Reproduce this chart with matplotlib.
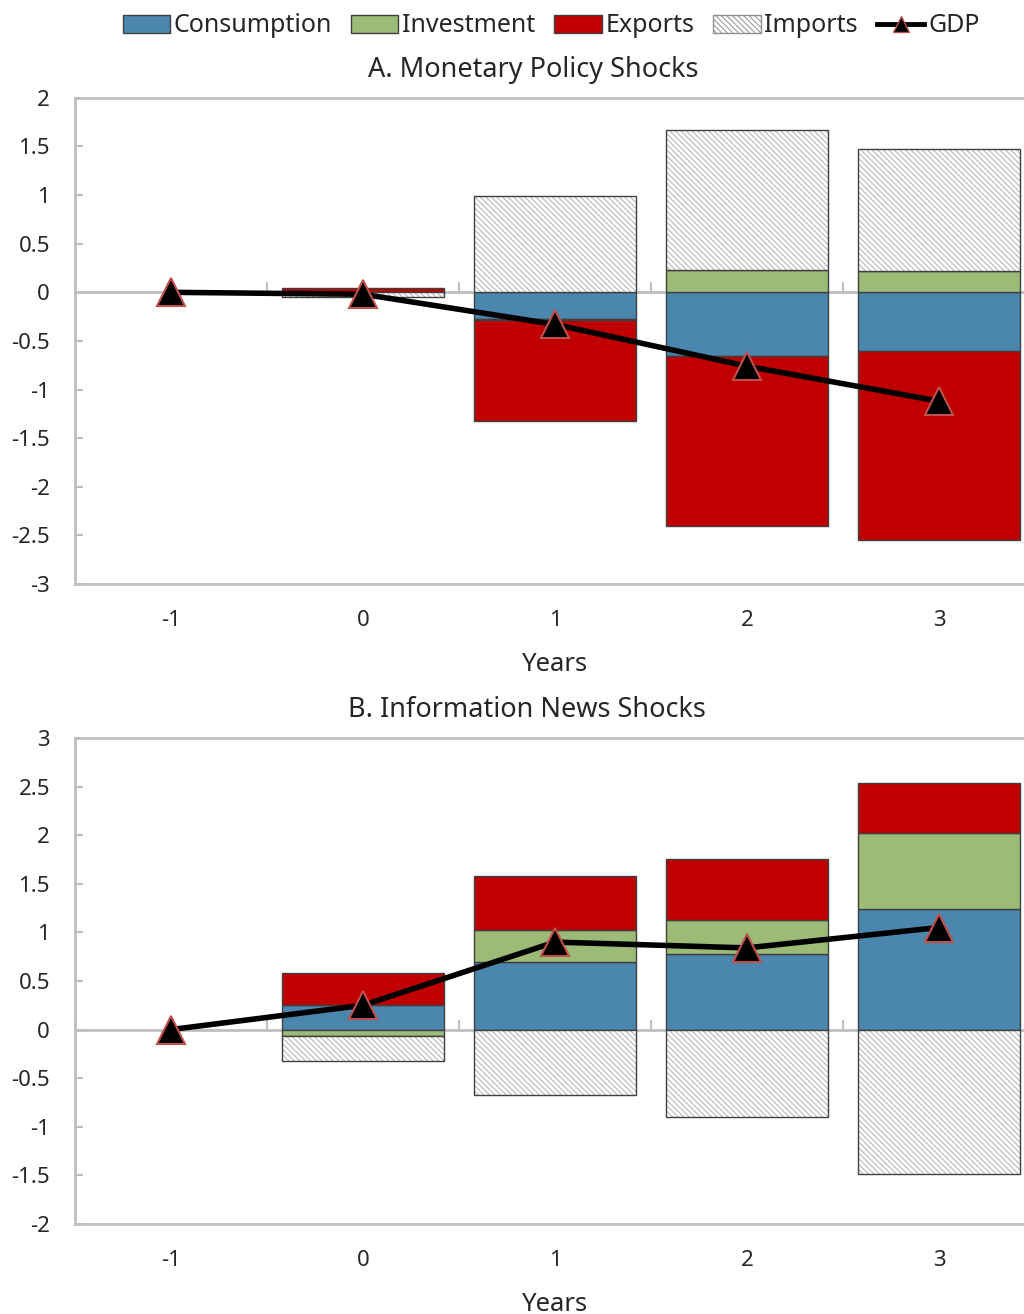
import matplotlib
matplotlib.use("Agg")
import matplotlib.pyplot as plt
import numpy as np
from matplotlib.lines import Line2D
from matplotlib.patches import Patch

plt.rcParams["font.family"] = ["Noto Sans", "DejaVu Sans"]
plt.rcParams["hatch.linewidth"] = 0.7

years = [-1, 0, 1, 2, 3]

# Panel A: monetary policy shocks
a_consumption = [0.0, 0.0, -0.27, -0.66, -0.60]
a_investment = [0.0, 0.0, -0.01, 0.23, 0.22]
a_exports = [0.0, 0.04, -1.04, -1.74, -1.95]
a_imports = [0.0, -0.05, 0.99, 1.44, 1.25]
a_gdp = [0.0, -0.02, -0.33, -0.76, -1.12]

# Panel B: information news shocks
b_consumption = [0.0, 0.25, 0.70, 0.78, 1.24]
b_investment = [0.0, -0.07, 0.32, 0.35, 0.78]
b_exports = [0.0, 0.33, 0.56, 0.62, 0.52]
b_imports = [0.0, -0.25, -0.67, -0.90, -1.49]
b_gdp = [0.0, 0.25, 0.90, 0.84, 1.05]

C_CONS = "#4A86AD"
C_INV = "#9BBB77"
C_EXP = "#C00000"
EDGE = "#404040"
GRAY = "#BFBFBF"
TXT = "#262626"
HATCH = "\\\\\\\\\\\\"
WIDTH = 0.84


def draw_panel(ax, series, gdp, ylim):
    x = np.array(years, dtype=float)
    pos = np.zeros(len(x))
    neg = np.zeros(len(x))
    for values, color in series:
        v = np.array(values, dtype=float)
        bottom = np.where(v >= 0, pos, neg)
        keep = v != 0
        if color is None:
            ax.bar(x[keep], v[keep], WIDTH, bottom=bottom[keep], color="white",
                   edgecolor="#B0B0B0", hatch=HATCH, linewidth=0, zorder=2)
            ax.bar(x[keep], v[keep], WIDTH, bottom=bottom[keep], fill=False,
                   edgecolor=EDGE, linewidth=1.0, zorder=2.5)
        else:
            ax.bar(x[keep], v[keep], WIDTH, bottom=bottom[keep], color=color,
                   edgecolor=EDGE, linewidth=1.0, zorder=2)
        pos = np.where(v >= 0, pos + v, pos)
        neg = np.where(v < 0, neg + v, neg)

    ax.plot(x, gdp, color="black", lw=4, marker="^", markersize=20,
            markerfacecolor="black", markeredgecolor="#C0504D", markeredgewidth=1.5,
            zorder=5)

    ticks = np.arange(ylim[0], ylim[1] + 0.01, 0.5)
    ax.set_xlim(-1.5, 3.5)
    ax.set_ylim(*ylim)
    ax.set_yticks(ticks)
    ax.set_yticklabels([f"{t:g}" for t in ticks])
    ax.set_xticks(years)
    ax.set_xticklabels([str(y) for y in years])
    ax.tick_params(axis="x", length=0, pad=19, labelsize=16, colors=TXT)
    ax.tick_params(axis="y", direction="in", length=6, width=1.5, color=GRAY,
                   pad=18, labelsize=16, labelcolor=TXT)
    for s in ax.spines.values():
        s.set_color(GRAY)
        s.set_linewidth(2)
    ax.set_xlabel("Years", fontsize=18.5, labelpad=15, color=TXT)

    # horizontal axis at zero with category boundary ticks
    zero = (0 - ylim[0]) / (ylim[1] - ylim[0])
    sec = ax.secondary_xaxis(zero)
    sec.set_alignment("bottom")
    sec.set_xticks(np.arange(-1.5, 3.6, 1.0))
    sec.set_xticklabels([])
    sec.tick_params(direction="in", length=7, width=1.5, color=GRAY)
    sec.spines["bottom"].set_color(GRAY)
    sec.spines["bottom"].set_linewidth(2)
    sec.spines["top"].set_visible(False)


fig = plt.figure(figsize=(10.24, 13.14), dpi=100)
ax_a = fig.add_axes([0.0732, 0.5556, 0.9375, 0.3699])
ax_b = fig.add_axes([0.0732, 0.0685, 0.9375, 0.3699])

draw_panel(ax_a, [(a_consumption, C_CONS), (a_investment, C_INV),
                  (a_exports, C_EXP), (a_imports, None)], a_gdp, (-3, 2))
draw_panel(ax_b, [(b_consumption, C_CONS), (b_investment, C_INV),
                  (b_exports, C_EXP), (b_imports, None)], b_gdp, (-2, 3))

fig.text(533 / 1024, 1 - 70 / 1314, "A. Monetary Policy Shocks", ha="center",
         va="center", fontsize=19.5, color=TXT)
fig.text(527 / 1024, 1 - 710 / 1314, "B. Information News Shocks", ha="center",
         va="center", fontsize=19.5, color=TXT)

handles = [
    Patch(facecolor=C_CONS, edgecolor=EDGE, label="Consumption"),
    Patch(facecolor=C_INV, edgecolor=EDGE, label="Investment"),
    Patch(facecolor=C_EXP, edgecolor=EDGE, label="Exports"),
    Patch(facecolor="white", edgecolor="#909090", hatch=HATCH, label="Imports"),
    Line2D([], [], color="black", lw=3.5, marker="^", markersize=12,
           markerfacecolor="black", markeredgecolor="#C0504D", label="GDP"),
]
fig.legend(handles=handles, loc="center", bbox_to_anchor=(551 / 1024, 1 - 26 / 1314),
           ncol=5, frameon=False, fontsize=18, handlelength=1.9, handletextpad=0.15,
           columnspacing=0.75, labelcolor=TXT)

fig.savefig("out.png", dpi=100)
